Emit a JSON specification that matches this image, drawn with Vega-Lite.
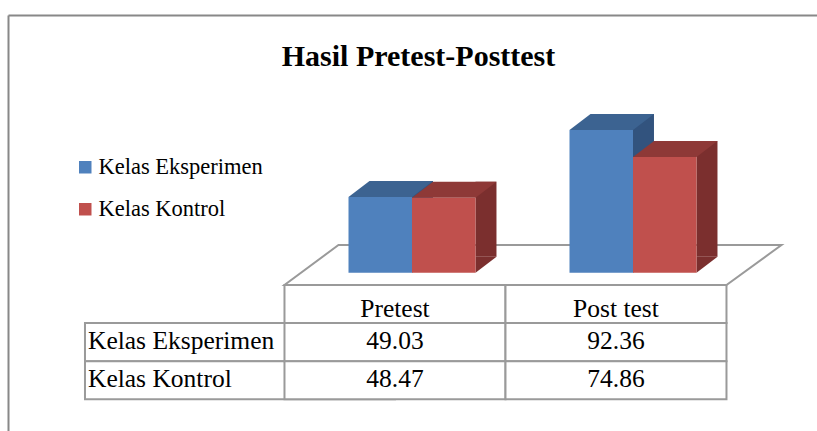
{
  "$schema": "https://vega.github.io/schema/vega-lite/v6.json",
  "autosize": "none",
  "width": 809,
  "height": 416,
  "padding": {"left": 8, "top": 15, "right": 0, "bottom": 0},
  "background": "white",
  "title": {"text": "Hasil Pretest-Posttest", "font": "Liberation Serif", "fontSize": 30, "fontWeight": "bold", "color": "black", "anchor": "middle", "offset": -57, "dx": 6},
  "config": {"view": {"stroke": null}, "font": "Liberation Serif", "legend": {"labelFont": "Liberation Serif", "labelFontSize": 22.5, "labelLimit": 0}},
  "datasets": {
    "nilai": [
      {"kelas": "Kelas Eksperimen", "tes": "Pretest", "nilai": 49.03},
      {"kelas": "Kelas Eksperimen", "tes": "Post test", "nilai": 92.36},
      {"kelas": "Kelas Kontrol", "tes": "Pretest", "nilai": 48.47},
      {"kelas": "Kelas Kontrol", "tes": "Post test", "nilai": 74.86}
    ]
  },
  "data": {"name": "nilai"},
  "layer": [
    {
      "layer": [
        {
          "transform": [{"aggregate": [{"op": "count", "as": "n"}]}],
          "mark": {"type": "point", "shape": "M 0 0 L 442 0 L 497 -40 L 54 -40 Z", "size": 4, "filled": true, "fill": "white", "stroke": "#9a9a9a", "strokeWidth": 2, "opacity": 1},
          "encoding": {
            "x": {"datum": "Pretest", "type": "nominal", "bandPosition": 0, "scale": {"type": "band", "domain": ["label", "Pretest", "Post test"], "paddingInner": 0, "paddingOuter": 0.3303, "align": 0.38}, "axis": {"orient": "top", "domain": true, "domainColor": "#888888", "domainWidth": 2, "ticks": false, "labels": false, "title": null, "grid": false}},
            "y": {"datum": "header", "type": "nominal", "bandPosition": 0, "scale": {"type": "band", "domain": ["header", "Kelas Eksperimen", "Kelas Kontrol"], "range": [270, 384.3], "paddingInner": 0, "paddingOuter": 0}, "axis": null}
          }
        },
        {
          "transform": [{"aggregate": [{"op": "count", "as": "n"}], "groupby": ["kelas"]}],
          "mark": {"type": "rect", "fill": "white", "stroke": "#9a9a9a", "strokeWidth": 2},
          "encoding": {
            "x": {"datum": "label", "type": "nominal", "bandPosition": 0.0973},
            "x2": {"datum": "Pretest"},
            "y": {"field": "kelas", "type": "nominal"}
          }
        },
        {
          "mark": {"type": "rect", "fill": "white", "stroke": "#9a9a9a", "strokeWidth": 2},
          "encoding": {
            "x": {"field": "tes", "type": "nominal"},
            "y": {"field": "kelas", "type": "nominal"}
          }
        },
        {
          "transform": [{"aggregate": [{"op": "count", "as": "n"}], "groupby": ["tes"]}],
          "mark": {"type": "rect", "fill": "white", "stroke": "#9a9a9a", "strokeWidth": 2},
          "encoding": {
            "x": {"field": "tes", "type": "nominal"},
            "y": {"datum": "header", "type": "nominal"}
          }
        },
        {
          "transform": [{"aggregate": [{"op": "count", "as": "n"}], "groupby": ["tes"]}],
          "mark": {"type": "text", "fontSize": 25.5, "font": "Liberation Serif", "color": "black", "baseline": "alphabetic", "dy": 12.6},
          "encoding": {
            "x": {"field": "tes", "type": "nominal"},
            "y": {"datum": "header", "type": "nominal"},
            "text": {"field": "tes"}
          }
        },
        {
          "mark": {"type": "text", "fontSize": 25.5, "font": "Liberation Serif", "color": "black", "baseline": "alphabetic", "dy": 7.1},
          "encoding": {
            "x": {"field": "tes", "type": "nominal"},
            "y": {"field": "kelas", "type": "nominal"},
            "text": {"field": "nilai", "format": ".2f"}
          }
        },
        {
          "transform": [{"aggregate": [{"op": "count", "as": "n"}], "groupby": ["kelas"]}],
          "mark": {"type": "text", "fontSize": 25.5, "font": "Liberation Serif", "color": "black", "baseline": "alphabetic", "align": "left", "dy": 7.1},
          "encoding": {
            "x": {"datum": "label", "type": "nominal", "bandPosition": 0.1109},
            "y": {"field": "kelas", "type": "nominal"},
            "text": {"field": "kelas"}
          }
        }
      ]
    },
    {
      "layer": [
        {
          "mark": {"type": "bar", "yOffset": -16, "y2Offset": -16},
          "encoding": {
            "x": {"field": "tes", "type": "nominal"},
            "xOffset": {"field": "kelas", "type": "nominal", "scale": {"type": "band", "domain": ["Kelas Eksperimen", "Kelas Kontrol"], "range": [127.5, 212], "paddingInner": 0.6693, "paddingOuter": 0}},
            "y": {"field": "nilai", "type": "quantitative", "scale": {"domain": [-102.39, 166.69], "nice": false, "zero": false}, "axis": {"orient": "left", "domain": true, "domainColor": "#888888", "domainWidth": 2, "ticks": false, "labels": false, "title": null, "grid": false}},
            "fill": {"condition": {"test": "datum.kelas === 'Kelas Eksperimen'", "value": "#32537E"}, "value": "#7B2F2E"}
          }
        },
        {
          "mark": {"type": "point", "shape": "M 31.75 -16 L 31.75 0 L 52.75 -16 Z", "size": 4, "filled": true, "strokeWidth": 0, "opacity": 1},
          "encoding": {
            "x": {"field": "tes", "type": "nominal"},
            "xOffset": {"field": "kelas", "type": "nominal", "scale": {"type": "band", "domain": ["Kelas Eksperimen", "Kelas Kontrol"], "paddingInner": 0, "paddingOuter": 0.7402, "align": 0.681}},
            "y": {"datum": 0, "type": "quantitative"},
            "fill": {"condition": {"test": "datum.kelas === 'Kelas Eksperimen'", "value": "#32537E"}, "value": "#7B2F2E"}
          }
        },
        {
          "mark": {"type": "point", "shape": "M -31.75 0 L 31.75 0 L 52.75 -16 L -10.75 -16 Z", "size": 4, "filled": true, "strokeWidth": 0, "opacity": 1},
          "encoding": {
            "x": {"field": "tes", "type": "nominal"},
            "xOffset": {"field": "kelas", "type": "nominal", "scale": {"type": "band", "domain": ["Kelas Eksperimen", "Kelas Kontrol"], "paddingInner": 0, "paddingOuter": 0.7402, "align": 0.681}},
            "y": {"field": "nilai", "type": "quantitative"},
            "fill": {"condition": {"test": "datum.kelas === 'Kelas Eksperimen'", "value": "#3C6391"}, "value": "#8E3937"}
          }
        },
        {
          "mark": {"type": "bar"},
          "encoding": {
            "x": {"field": "tes", "type": "nominal"},
            "xOffset": {"field": "kelas", "type": "nominal", "scale": {"type": "band", "domain": ["Kelas Eksperimen", "Kelas Kontrol"], "paddingInner": 0, "paddingOuter": 0.7402, "align": 0.681}},
            "y": {"field": "nilai", "type": "quantitative"},
            "color": {"field": "kelas", "type": "nominal", "scale": {"domain": ["Kelas Eksperimen", "Kelas Kontrol"], "range": ["#4F81BD", "#C0504D"]},
              "legend": {"title": null, "orient": "none", "legendX": 66, "legendY": 141, "symbolType": "square", "symbolSize": 156, "symbolStrokeWidth": 0, "labelFont": "Liberation Serif", "labelFontSize": 22.5, "labelLimit": 0, "labelColor": "black", "labelOffset": 2, "rowPadding": 19, "padding": 0}}
          }
        }
      ],
      "resolve": {"scale": {"xOffset": "independent", "fill": "independent"}}
    }
  ],
  "resolve": {"scale": {"y": "independent"}}
}
